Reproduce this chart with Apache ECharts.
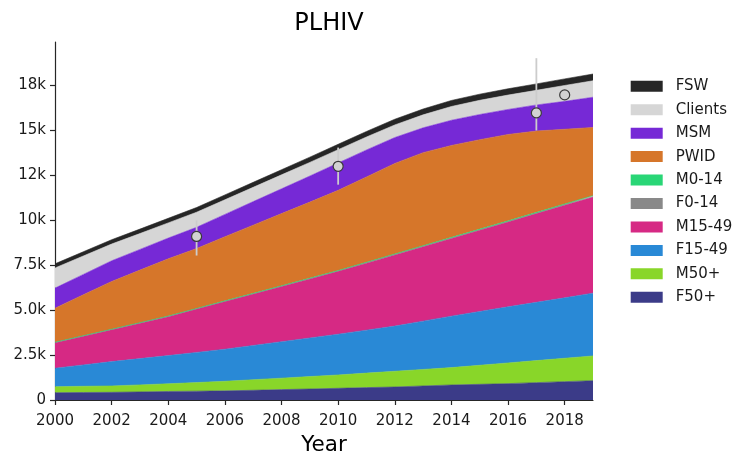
<!DOCTYPE html>
<html><head><meta charset="utf-8">
<script src="https://cdn.jsdelivr.net/npm/echarts@6/dist/echarts.min.js"></script>
<style>html,body{margin:0;padding:0;background:#fff}#c{width:736px;height:458px}</style>
</head><body><div id="c"></div>
<script>
const years = ['2000','2001','2002','2003','2004','2005','2006','2007','2008','2009','2010','2011','2012','2013','2014','2015','2016','2017','2018','2019'];
const F50 = [408,417,427,450,474,490,508,540,577,612,650,688,724,780,835,872,910,965,1020,1075];
const M50 = [334,344,353,390,428,480,532,588,638,691,742,806,872,918,965,1058,1150,1225,1300,1375];
const F1549 = [1023,1189,1354,1460,1566,1675,1782,1903,2025,2145,2265,2389,2512,2686,2860,2990,3120,3240,3360,3490];
const M1549 = [1417,1595,1771,1968,2165,2408,2650,2857,3068,3280,3493,3724,3956,4136,4317,4515,4712,4930,5147,5345];
const F014 = [12,12,12,13,14,15,16,17,18,19,20,21,22,23,24,24,25,25,25,25];
const M014 = [18,18,18,19,20,22,24,25,27,29,30,32,34,37,39,41,43,45,48,50];
const PWID = [1893,2275,2653,2920,3184,3330,3564,3790,4007,4224,4455,4740,5030,5170,5110,4970,4800,4520,4150,3790];
const MSM = [1115,1130,1150,1150,1150,1180,1240,1310,1380,1450,1520,1500,1440,1380,1400,1400,1390,1450,1550,1680];
const Clients = [1120,1025,931,882,844,838,814,792,775,758,740,720,700,720,765,788,800,812,884,915];
const FSW = [230,235,240,248,255,262,270,278,285,292,300,308,316,325,335,342,350,358,366,375];

// observed estimates with uncertainty ranges
const obsYears = ['2005','2010','2017','2018'];
const obsValue = [9090,12990,15960,16960];
const obsLow = [8030,11970,14980,null];
const obsHigh = [9980,14030,19000,null];

const yTicks = [0,2500,5000,7500,10000,12500,15000,17500];
const yTickLabels = ['0','2.5k','5.0k','7.5k','10k','12k','15k','18k'];

const layers = [
  ['F50+', F50, '#3b3b88'],
  ['M50+', M50, '#89d629'],
  ['F15-49', F1549, '#2989d6'],
  ['M15-49', M1549, '#d62984'],
  ['F0-14', F014, '#898989'],
  ['M0-14', M014, '#29d676'],
  ['PWID', PWID, '#d6762a'],
  ['MSM', MSM, '#7629d6'],
  ['Clients', Clients, '#d6d6d6'],
  ['FSW', FSW, '#262626']
];
const legendOrder = ['FSW','Clients','MSM','PWID','M0-14','F0-14','M15-49','F15-49','M50+','F50+'];

const font = 'DejaVu Sans';
const series = layers.map(([name, data, color]) => ({
  name, type: 'line', stack: 'total', data,
  symbol: 'none', smooth: false,
  lineStyle: { width: 0.6, color },
  itemStyle: { color },
  areaStyle: { color, opacity: 1 },
  emphasis: { disabled: true },
  z: 2
}));

const errData = [];
obsYears.forEach((y, i) => { if (obsLow[i] != null) errData.push([years.indexOf(y), obsLow[i], obsHigh[i]]); });
series.push({
  name: 'err', type: 'custom', data: errData, encode: { x: 0, y: [1, 2] }, z: 5,
  renderItem: (params, api) => {
    const p1 = api.coord([api.value(0), api.value(1)]);
    const p2 = api.coord([api.value(0), api.value(2)]);
    return { type: 'line', shape: { x1: p1[0], y1: p1[1], x2: p2[0], y2: p2[1] },
      style: { stroke: '#cccccc', lineWidth: 1.8 } };
  }
});
series.push({
  name: 'obs', type: 'scatter', data: obsYears.map((y, i) => [y, obsValue[i]]),
  symbol: 'circle', symbolSize: 10, z: 6,
  itemStyle: { color: '#d2d2d2', borderColor: '#3a3a3a', borderWidth: 1.2, opacity: 1 }
});

const chart = echarts.init(document.getElementById('c'), null, { renderer: 'canvas' });
chart.setOption({
  animation: false,
  backgroundColor: '#fff',
  title: { text: 'PLHIV', left: 324, textAlign: 'center', top: 7,
    textStyle: { fontFamily: font, fontSize: 24, fontWeight: 'normal', color: '#000' } },
  grid: { left: 55, right: 143, top: 42, bottom: 58, containLabel: false, outerBoundsMode: 'none' },
  legend: {
    data: legendOrder, orient: 'vertical', left: 625.7, top: 73.3,
    itemWidth: 32, itemHeight: 11, itemGap: 7.44, icon: 'rect',
    textStyle: { fontFamily: font, fontSize: 15, lineHeight: 16, color: '#1a1a1a', padding: [0,0,0,8] },
    selectedMode: false
  },
  xAxis: {
    type: 'category', data: years, boundaryGap: false,
    name: 'Year', nameLocation: 'middle', nameGap: 34,
    nameTextStyle: { fontFamily: font, fontSize: 21.5, color: '#000' },
    axisLine: { lineStyle: { color: '#262626', width: 1.2 } },
    axisTick: { interval: 1, length: 5, lineStyle: { color: '#262626', width: 1.2 } },
    axisLabel: { interval: 1, margin: 14, fontFamily: font, fontSize: 15, color: '#1a1a1a' },
    splitLine: { show: false }
  },
  yAxis: {
    type: 'value', min: 0, max: 19900, interval: 2500,
    axisLine: { show: true, lineStyle: { color: '#262626', width: 1.2 } },
    axisTick: { show: true, length: 5, customValues: yTicks, lineStyle: { color: '#262626', width: 1.2 } },
    axisLabel: { margin: 9, fontFamily: font, fontSize: 15, color: '#1a1a1a',
      customValues: yTicks,
      formatter: v => { const i = yTicks.indexOf(v); return i >= 0 ? yTickLabels[i] : ''; } },
    splitLine: { show: false }
  },
  tooltip: { show: false },
  series
});
</script></body></html>
